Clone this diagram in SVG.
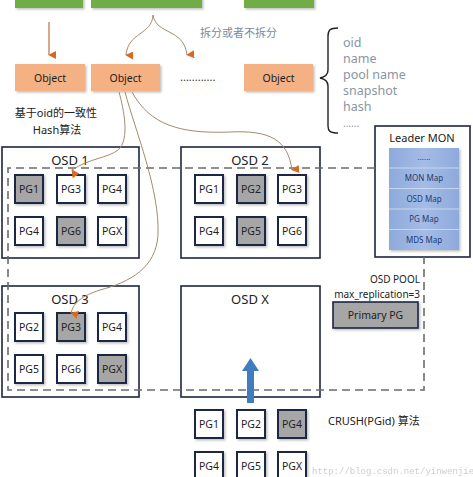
<svg xmlns="http://www.w3.org/2000/svg" width="473" height="477" viewBox="0 0 473 477">
<style>
text{font-family:"Noto Sans","Noto Sans CJK SC",sans-serif;}
.green{fill:#70ad47;}
.obj{fill:#f4b183;filter:url(#sh);}
.objt{font-size:10.5px;fill:#222;text-anchor:middle;}
.osd{fill:#fff;stroke:#1f2544;stroke-width:1.6;}
.osdt{font-size:13px;fill:#222;text-anchor:middle;}
.pg{fill:#fff;stroke:#1f2544;stroke-width:2;filter:url(#sh);}
.pgg{fill:#a6a6a6;stroke:#1f2544;stroke-width:2;filter:url(#sh);}
.pgt{font-size:10.5px;fill:#222;text-anchor:middle;}
.dash{fill:none;stroke:#6b6b6b;stroke-width:1.6;stroke-dasharray:8 5;}
.curve{fill:none;stroke:#a58a6c;stroke-width:1;}
.attr{font-size:12.5px;fill:#8a95a5;}
.map{font-size:8px;fill:#1f3a70;text-anchor:middle;}
</style>
<defs>
<filter id="sh" x="-20%" y="-20%" width="150%" height="150%">
<feDropShadow dx="1.5" dy="1.5" stdDeviation="1" flood-color="#000" flood-opacity="0.25"/>
</filter>
<marker id="ah" viewBox="0 0 10 10" refX="5" refY="9" markerWidth="8" markerHeight="8" orient="auto-start-reverse" markerUnits="userSpaceOnUse">
<path d="M0,0 L10,0 L5,10 Z" fill="#d9691f"/>
</marker>
<linearGradient id="blue" x1="0" y1="0" x2="1" y2="0">
<stop offset="0" stop-color="#8eaadb"/>
<stop offset="0.5" stop-color="#a4bce6"/>
<stop offset="1" stop-color="#8eaadb"/>
</linearGradient>
</defs>

<g id="top-boxes">
<rect class="green" x="15" y="-4" width="68" height="12" filter="url(#sh)"/>
<rect class="green" x="91" y="-4" width="111" height="12" filter="url(#sh)"/>
<rect class="green" x="244" y="-4" width="70" height="12" filter="url(#sh)"/>
</g>

<g id="split-label">
<text x="200" y="37" style="font-size:11px;fill:#7a8aa0">拆分或者不拆分</text>
</g>

<g id="object1"><rect class="obj" x="15" y="64" width="70" height="27"/><text class="objt" x="50" y="81.5">Object</text></g>
<g id="object2"><rect class="obj" x="91" y="64" width="69" height="27"/><text class="objt" x="125.5" y="81.5">Object</text></g>
<g id="dots"><text x="180" y="81" style="font-size:11px;fill:#333">............</text></g>
<g id="object3"><rect class="obj" x="244" y="64" width="69" height="27"/><text class="objt" x="278.5" y="81.5">Object</text></g>

<g id="attributes">
<path d="M338,28 C330,28 328,30 328,36 L328,70 C328,75 325,77 320,78 C325,79 328,81 328,86 L328,126 C328,131 330,133 338,133" fill="none" stroke="#222" stroke-width="1.4"/>
<text class="attr" x="343" y="47">oid</text>
<text class="attr" x="343" y="63">name</text>
<text class="attr" x="343" y="79">pool name</text>
<text class="attr" x="343" y="95">snapshot</text>
<text class="attr" x="343" y="111">hash</text>
<text x="343" y="127" style="font-size:10px;fill:#8a95a5">......</text>
</g>

<g id="hash-label">
<text x="56" y="117" style="font-size:11px;fill:#222;text-anchor:middle">基于oid的一致性</text>
<text x="57" y="134" style="font-size:11px;fill:#222;text-anchor:middle">Hash算法</text>
</g>

<g id="osd1">
<rect class="osd" x="2" y="147" width="137" height="111"/>
<text class="osdt" x="70" y="165">OSD 1</text>
<rect class="pgg" x="15" y="175" width="28" height="28"/><text class="pgt" x="29" y="193">PG1</text>
<rect class="pg" x="57" y="175" width="28" height="28"/><text class="pgt" x="71" y="193">PG3</text>
<rect class="pg" x="98" y="175" width="28" height="28"/><text class="pgt" x="112" y="193">PG4</text>
<rect class="pg" x="15" y="217" width="28" height="28"/><text class="pgt" x="29" y="235">PG4</text>
<rect class="pgg" x="57" y="217" width="28" height="28"/><text class="pgt" x="71" y="235">PG6</text>
<rect class="pg" x="98" y="217" width="28" height="28"/><text class="pgt" x="112" y="235">PGX</text>
</g>

<g id="osd2">
<rect class="osd" x="181" y="147" width="139" height="111"/>
<text class="osdt" x="250" y="165">OSD 2</text>
<rect class="pg" x="195" y="175" width="28" height="28"/><text class="pgt" x="209" y="193">PG1</text>
<rect class="pgg" x="237" y="175" width="28" height="28"/><text class="pgt" x="251" y="193">PG2</text>
<rect class="pg" x="278" y="175" width="28" height="28"/><text class="pgt" x="292" y="193">PG3</text>
<rect class="pg" x="195" y="217" width="28" height="28"/><text class="pgt" x="209" y="235">PG4</text>
<rect class="pgg" x="237" y="217" width="28" height="28"/><text class="pgt" x="251" y="235">PG5</text>
<rect class="pg" x="278" y="217" width="28" height="28"/><text class="pgt" x="292" y="235">PG6</text>
</g>

<g id="osd3">
<rect class="osd" x="2" y="286" width="137" height="111"/>
<text class="osdt" x="70" y="304">OSD 3</text>
<rect class="pg" x="15" y="313" width="28" height="28"/><text class="pgt" x="29" y="331">PG2</text>
<rect class="pgg" x="57" y="313" width="28" height="28"/><text class="pgt" x="71" y="331">PG3</text>
<rect class="pg" x="98" y="313" width="28" height="28"/><text class="pgt" x="112" y="331">PG4</text>
<rect class="pg" x="15" y="355" width="28" height="28"/><text class="pgt" x="29" y="373">PG5</text>
<rect class="pg" x="57" y="355" width="28" height="28"/><text class="pgt" x="71" y="373">PG6</text>
<rect class="pgg" x="98" y="355" width="28" height="28"/><text class="pgt" x="112" y="373">PGX</text>
</g>

<g id="osdx">
<rect class="osd" x="181" y="286" width="139" height="111"/>
<text class="osdt" x="250" y="304">OSD X</text>
</g>

<g id="leader-mon">
<rect x="375" y="126" width="95" height="131" fill="#fff" stroke="#1f2544" stroke-width="1.6"/>
<text x="422" y="142" style="font-size:11px;fill:#222;text-anchor:middle">Leader MON</text>
<rect x="389" y="148" width="70" height="102" fill="url(#blue)" filter="url(#sh)"/>
<g stroke="#c8d6ef" stroke-width="1">
<line x1="389" y1="168" x2="459" y2="168"/>
<line x1="389" y1="188.5" x2="459" y2="188.5"/>
<line x1="389" y1="209" x2="459" y2="209"/>
<line x1="389" y1="229.5" x2="459" y2="229.5"/>
</g>
<text class="map" x="424" y="160">......</text>
<text class="map" x="424" y="181">MON Map</text>
<text class="map" x="424" y="202">OSD Map</text>
<text class="map" x="424" y="222">PG Map</text>
<text class="map" x="424" y="243">MDS Map</text>
</g>

<g id="pool-label">
<text x="420" y="283" style="font-size:10px;fill:#222;text-anchor:end">OSD POOL</text>
<text x="420" y="298" style="font-size:10px;fill:#222;text-anchor:end">max_replication=3</text>
</g>

<g id="primary-pg">
<rect x="333" y="302" width="85" height="26" fill="#a6a6a6" stroke="#1f2544" stroke-width="1.6" filter="url(#sh)"/>
<text x="375.5" y="319" style="font-size:10.5px;fill:#222;text-anchor:middle">Primary PG</text>
</g>

<g id="crush-pgs">
<rect class="pg" x="195" y="410" width="28" height="28"/><text class="pgt" x="209" y="428">PG1</text>
<rect class="pg" x="237" y="410" width="28" height="28"/><text class="pgt" x="251" y="428">PG2</text>
<rect class="pgg" x="278" y="410" width="28" height="28"/><text class="pgt" x="292" y="428">PG4</text>
<rect class="pg" x="195" y="452" width="28" height="28"/><text class="pgt" x="209" y="470">PG4</text>
<rect class="pg" x="237" y="452" width="28" height="28"/><text class="pgt" x="251" y="470">PG5</text>
<rect class="pg" x="278" y="452" width="28" height="28"/><text class="pgt" x="292" y="470">PGX</text>
<text x="328" y="425" style="font-size:11px;fill:#222">CRUSH(PGid) 算法</text>
</g>

<g id="connectors">
<path class="dash" d="M375,168 L8,168 L8,390 L424,390 L424,257"/>
<line x1="49" y1="22" x2="49" y2="55" stroke="#c0703a" stroke-width="1.2" marker-end="url(#ah)"/>
<path class="curve" d="M153,15 C152,35 128,32 126,55" marker-end="url(#ah)"/>
<path class="curve" d="M153,15 C156,35 184,28 187,55" marker-end="url(#ah)"/>
<path class="curve" d="M119,92 C124,110 130,140 118,150 C108,158 90,158 72,170" marker-end="url(#ah)"/>
<path class="curve" d="M125,92 C135,130 160,190 158,235 C156,268 130,282 100,290 C82,296 74,302 71,313" marker-end="url(#ah)"/>
<path class="curve" d="M132,92 C150,125 180,134 230,132 C270,130 288,140 292,170" marker-end="url(#ah)"/>
<g id="crush-arrow">
<rect x="247" y="369" width="7" height="34" fill="#3f7dbf"/>
<path d="M242,371 L250.5,358 L259,371 Z" fill="#3f7dbf"/>
</g>
</g>

<text x="312" y="474" style="font-family:'Liberation Mono',monospace;font-size:9px;fill:#b8b8b8;opacity:0.7">http://blog.csdn.net/yinwenjie</text>
</svg>
